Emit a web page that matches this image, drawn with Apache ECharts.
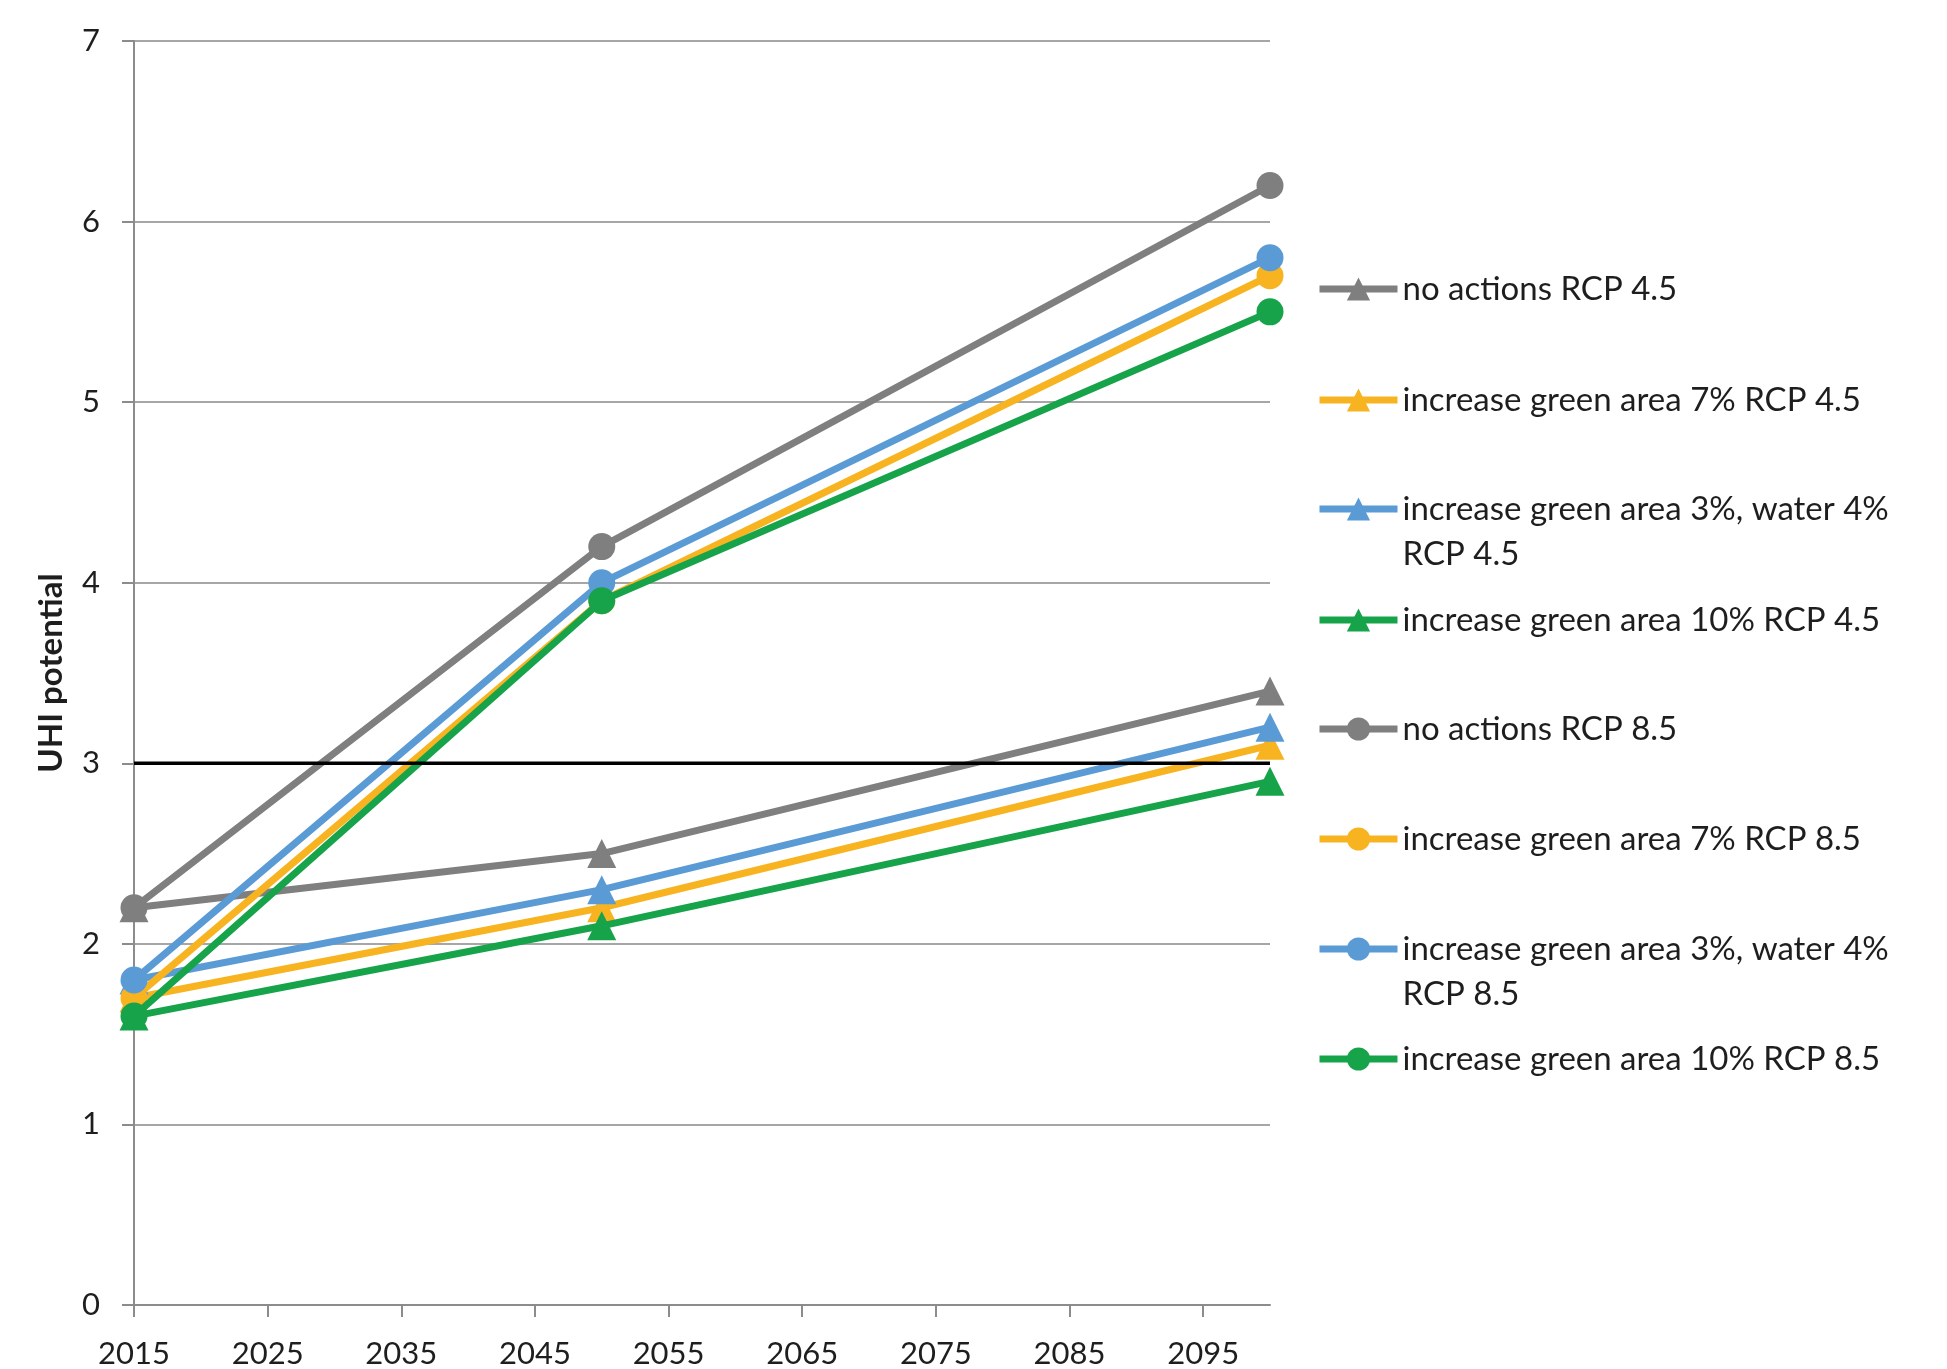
<!DOCTYPE html>
<html>
<head>
<meta charset="utf-8">
<script src="https://cdn.jsdelivr.net/npm/echarts@6/dist/echarts.min.js"></script>
<style>html,body{margin:0;padding:0;background:#fff}#chart{width:1947px;height:1369px}</style>
</head>
<body>
<div id="chart"></div>
<script>
// ---- data ----
var years = [2015, 2050, 2100];
var xTickLabels = [2015, 2025, 2035, 2045, 2055, 2065, 2075, 2085, 2095];
var yTickLabels = [0, 1, 2, 3, 4, 5, 6, 7];

var noActions45   = [2.2, 2.5, 3.4];
var green7_45     = [1.7, 2.2, 3.1];
var green3water45 = [1.8, 2.3, 3.2];
var green10_45    = [1.6, 2.1, 2.9];
var noActions85   = [2.2, 4.2, 6.2];
var green7_85     = [1.7, 3.9, 5.7];
var green3water85 = [1.8, 4.0, 5.8];
var green10_85    = [1.6, 3.9, 5.5];
var thresholdYears = [2015, 2100];
var thresholdValues = [3, 3];

var seriesNames = [
  'no actions RCP 4.5',
  'increase green area 7% RCP 4.5',
  'increase green area 3%, water 4%\nRCP 4.5',
  'increase green area 10% RCP 4.5',
  'no actions RCP 8.5',
  'increase green area 7% RCP 8.5',
  'increase green area 3%, water 4%\nRCP 8.5',
  'increase green area 10% RCP 8.5'
];
var seriesValues = [noActions45, green7_45, green3water45, green10_45, noActions85, green7_85, green3water85, green10_85];
var seriesColors = ['#7f7f7f', '#f7b320', '#5b9bd5', '#17a34a', '#7f7f7f', '#f7b320', '#5b9bd5', '#17a34a'];
var seriesSymbols = ['triangle', 'triangle', 'triangle', 'triangle', 'circle', 'circle', 'circle', 'circle'];

// ---- build ----
var FONT = 'Lato';
function pairs(xs, ys) { return xs.map(function (x, i) { return [x, ys[i]]; }); }

var series = seriesNames.map(function (name, i) {
  return {
    name: name,
    type: 'line',
    data: pairs(years, seriesValues[i]),
    symbol: seriesSymbols[i],
    symbolSize: seriesSymbols[i] === 'circle' ? 27 : 29,
    lineStyle: { width: 7, color: seriesColors[i] },
    itemStyle: { color: seriesColors[i] },
    color: seriesColors[i],
    z: 2 + i,
    animation: false
  };
});
series.push({
  name: 'threshold',
  type: 'line',
  data: pairs(thresholdYears, thresholdValues),
  symbol: 'none',
  lineStyle: { width: 3.5, color: '#000' },
  z: 20,
  animation: false
});

var legendCenters = [284, 395, 504, 615, 724, 834, 944, 1054];
var LH = 45;
var legends = seriesNames.map(function (name, i) {
  var twoLine = name.indexOf('\n') >= 0;
  return {
    data: [name],
    orient: 'vertical',
    left: 1311,
    top: twoLine ? legendCenters[i] - LH * 1.5 : legendCenters[i] - LH / 2,
    itemWidth: 78,
    itemHeight: 29,
    itemGap: 4,
    selectedMode: false,
    lineStyle: { width: 7 },
    formatter: function (n) { return n.indexOf('\n') >= 0 ? '\n' + n : n; },
    textStyle: {
      fontFamily: FONT,
      fontSize: 33,
      color: '#1e1e1e',
      lineHeight: LH
    }
  };
});

var chart = echarts.init(document.getElementById('chart'), null, { renderer: 'canvas' });
chart.setOption({
  animation: false,
  backgroundColor: '#fff',
  grid: { left: 134, top: 41, right: 677, bottom: 62, containLabel: false },
  legend: legends,
  xAxis: {
    type: 'value',
    min: 2015,
    max: 2100,
    interval: 10,
    axisLine: { show: true, lineStyle: { color: '#8c8c8c', width: 2 } },
    axisTick: { show: true, length: 12, inside: false, customValues: xTickLabels, lineStyle: { color: '#8c8c8c', width: 2 } },
    axisLabel: { customValues: xTickLabels, margin: 33, fontFamily: FONT, fontSize: 31, color: '#1e1e1e', formatter: function (v) { return String(v); } },
    splitLine: { show: false }
  },
  yAxis: {
    type: 'value',
    min: 0,
    max: 7,
    interval: 1,
    name: 'UHI potential',
    nameLocation: 'middle',
    nameRotate: 90,
    nameGap: 66,
    nameTextStyle: { fontFamily: FONT, fontSize: 33, fontWeight: 'bold', color: '#1e1e1e' },
    axisLine: { show: true, lineStyle: { color: '#8c8c8c', width: 2 } },
    axisTick: { show: true, length: 12, lineStyle: { color: '#8c8c8c', width: 2 } },
    axisLabel: { margin: 34, fontFamily: FONT, fontSize: 31, color: '#1e1e1e', formatter: function (v) { return yTickLabels.indexOf(v) >= 0 ? String(v) : ''; } },
    splitLine: { show: true, lineStyle: { color: '#a6a6a6', width: 2 } }
  },
  series: series
});
</script>
</body>
</html>
